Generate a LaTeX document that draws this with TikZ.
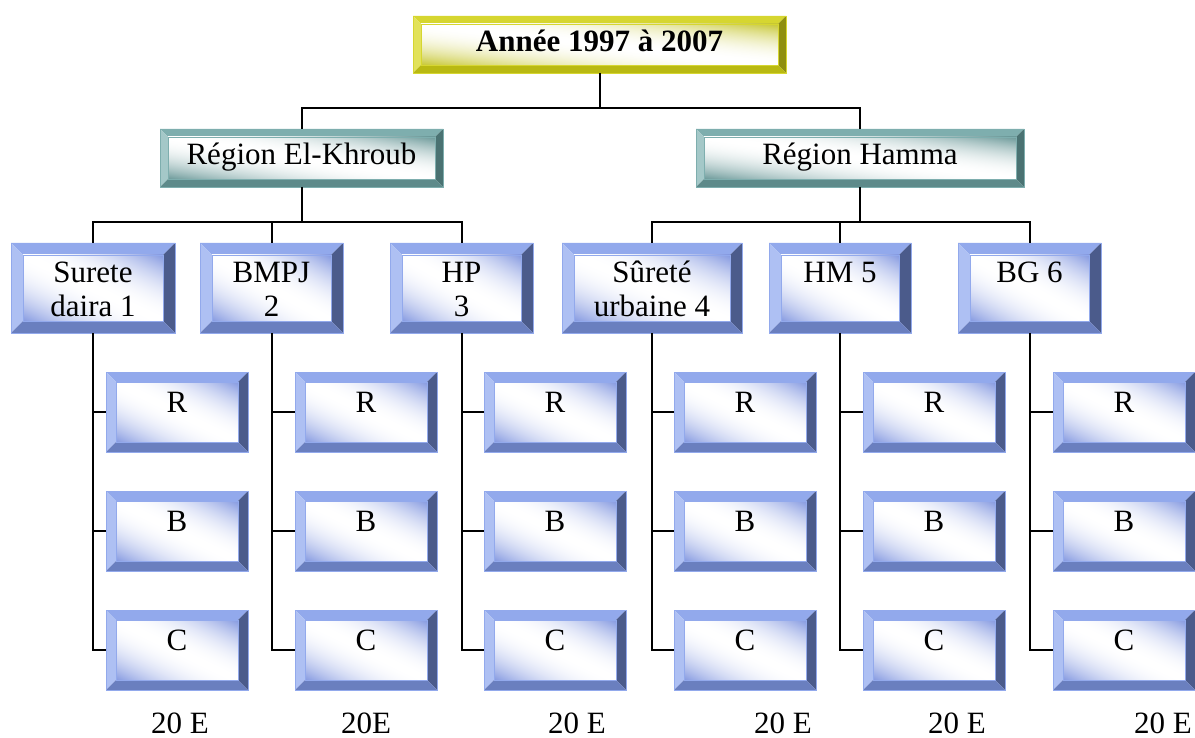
\documentclass[tikz,border=0pt]{standalone}
\usepackage{fontspec}
\setmainfont{Liberation Serif}
\definecolor{bluT}{HTML}{92A9EC}
\definecolor{bluL}{HTML}{AEC0F3}
\definecolor{bluR}{HTML}{4B5B8B}
\definecolor{bluB}{HTML}{6A7FBF}
\definecolor{tlT}{HTML}{7EAEAE}
\definecolor{tlL}{HTML}{A4C8C8}
\definecolor{tlR}{HTML}{4A7272}
\definecolor{tlB}{HTML}{5E8A8A}
\definecolor{ylT}{HTML}{D6D630}
\definecolor{ylL}{HTML}{E2E25A}
\definecolor{ylR}{HTML}{8F8F10}
\definecolor{ylB}{HTML}{B9B912}
\pgfdeclarefunctionalshading{blushade}{\pgfpoint{0bp}{0bp}}{\pgfpoint{100bp}{100bp}}{}{
  add 100 sub abs 50 div dup 1 gt {pop 1} if dup mul
  dup 0.48 mul 1 exch sub
  exch dup 0.40 mul 1 exch sub
  exch 0.12 mul 1 exch sub
}
\pgfdeclarefunctionalshading{tlshade}{\pgfpoint{0bp}{0bp}}{\pgfpoint{100bp}{100bp}}{}{
  add 100 sub abs 50 div dup 1 gt {pop 1} if dup mul
  dup 0.58 mul 1 exch sub
  exch dup 0.40 mul 1 exch sub
  exch 0.40 mul 1 exch sub
}
\pgfdeclarefunctionalshading{ylshade}{\pgfpoint{0bp}{0bp}}{\pgfpoint{100bp}{100bp}}{}{
  add 100 sub abs 50 div dup 1 gt {pop 1} if dup mul
  dup 0.22 mul 1 exch sub
  exch dup 0.22 mul 1 exch sub
  exch 0.80 mul 1 exch sub
}
\newcommand\bevpaint[2]{%
  \path (path picture bounding box.south west) coordinate (pbl)
        (path picture bounding box.north east) coordinate (ptr);
  \path (pbl) ++(#2pt,#2pt) coordinate (ibl);
  \path (ptr) ++(-#2pt,-#2pt) coordinate (itr);
  \fill[#1T] (pbl|-ptr) -- (ptr) -- (itr) -- (ibl|-itr) -- cycle;
  \fill[#1L] (pbl) -- (pbl|-ptr) -- (ibl|-itr) -- (ibl) -- cycle;
  \fill[#1R] (ptr) -- (ptr|-pbl) -- (itr|-ibl) -- (itr) -- cycle;
  \fill[#1B] (pbl) -- (ptr|-pbl) -- (itr|-ibl) -- (ibl) -- cycle;
  \shade[shading=#1shade] (ibl) rectangle (itr);
  \draw[#1T, line width=0.6pt] (ibl) rectangle (itr);
}
\tikzset{
  bevnode/.style 2 args={rectangle, inner sep=0pt, outer sep=0pt, draw=#1T, line width=0.6pt,
    path picture={\bevpaint{#1}{#2}}, font=\fontsize{31}{34}\selectfont, text=black},
  childbox/.style={bevnode={blu}{10}, minimum width=142pt, minimum height=80pt, text height=20pt, text depth=20pt},
  midbox/.style={bevnode={blu}{12}, minimum height=90pt, text height=20pt, text depth=30pt},
  regbox/.style={bevnode={tl}{8}, minimum height=58pt, text height=21pt, text depth=7pt},
  titlebox/.style={bevnode={yl}{8}, minimum width=373pt, minimum height=57pt, text height=22pt, text depth=7pt,
    font=\fontsize{31}{34}\selectfont\bfseries},
  conn/.style={line width=2pt, black},
  lbl/.style={inner sep=0pt, anchor=base, font=\fontsize{31}{34}\selectfont}
}
\newcommand\twol[1]{\begin{tabular}[t]{@{}c@{}}#1\end{tabular}}
\begin{document}
\begin{tikzpicture}[x=1pt,y=-1pt]
\useasboundingbox (0,0) rectangle (1195,738);
% nodes
\node[titlebox] (title) at (599.5,44.5) {Année 1997 à 2007};
\node[regbox, minimum width=283pt] (reg1) at (301.5,158) {Région El-Khroub};
\node[regbox, minimum width=328pt] (reg2) at (860,158) {Région Hamma};
\node[midbox, minimum width=164pt] (m1) at (93,288) {\twol{Surete\\daira 1}};
\node[midbox, minimum width=143pt] (m2) at (271.5,288) {\twol{BMPJ\\2}};
\node[midbox, minimum width=143pt] (m3) at (461.5,288) {\twol{HP\\3}};
\node[midbox, minimum width=180pt] (m4) at (652,288) {\twol{Sûreté\\urbaine 4}};
\node[midbox, minimum width=142pt] (m5) at (840,288) {\twol{HM 5}};
\node[midbox, minimum width=143pt] (m6) at (1029.5,288) {\twol{BG 6}};
\foreach \n/\x in {1/177,2/366,3/555,4/745,5/934,6/1124}{
  \node[childbox] (cR\n) at (\x,412) {R};
  \node[childbox] (cB\n) at (\x,531) {B};
  \node[childbox] (cC\n) at (\x,650) {C};
}
\node[lbl] (e1) at (180,733) {20 E};
\node[lbl] (e2) at (366,733) {20E};
\node[lbl] (e3) at (577,733) {20 E};
\node[lbl] (e4) at (783,733) {20 E};
\node[lbl] (e5) at (957,733) {20 E};
\node[lbl] (e6) at (1163,733) {20 E};
% connectors
\draw[conn] (title.south) -- ++(0,35) coordinate (tj);
\draw[conn] (tj) -| (reg1.north);
\draw[conn] (tj) -| (reg2.north);
\draw[conn] (reg1.south) -- ++(0,35) coordinate (j1);
\draw[conn] (j1) -| (m1.north);
\draw[conn] (j1) -| (m2.north);
\draw[conn] (j1) -| (m3.north);
\draw[conn] (reg2.south) -- ++(0,35) coordinate (j2);
\draw[conn] (j2) -| (m4.north);
\draw[conn] (j2) -| (m5.north);
\draw[conn] (j2) -| (m6.north);
\foreach \n in {1,...,6}{
  \draw[conn] (m\n.south) |- (cR\n.west);
  \draw[conn] (m\n.south) |- (cB\n.west);
  \draw[conn] (m\n.south) |- (cC\n.west);
}
\end{tikzpicture}
\end{document}
